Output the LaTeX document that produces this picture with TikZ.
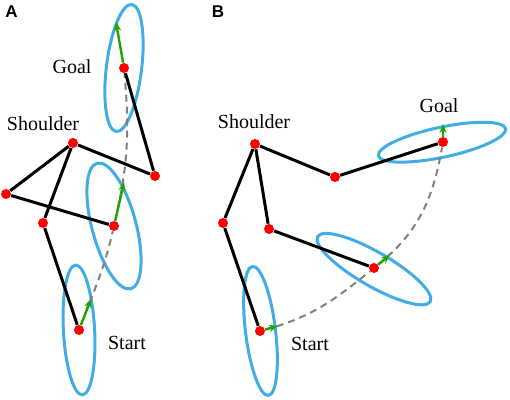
\documentclass[tikz,border=0pt]{standalone}
\usepackage{fontspec}
\setmainfont{Liberation Serif}
\setsansfont{Liberation Sans}
\usetikzlibrary{arrows.meta,backgrounds}

\definecolor{reachblue}{RGB}{66,172,228}
\definecolor{velgreen}{RGB}{32,165,0}

\tikzset{
    joint/.style={circle, fill=red, inner sep=0pt, minimum size=5pt},
    arm/.style={line width=1.5pt},
    reach/.style={draw=reachblue, line width=1.5pt},
    traj/.style={draw=gray, line width=1pt, dash pattern=on 3.5pt off 2.5pt},
    vel/.style={-{Stealth[length=4.5pt, width=3.6pt]}, draw=velgreen, fill=velgreen, line width=1.2pt},
    lbl/.style={font=\fontsize{10}{12}\selectfont, anchor=base, inner sep=0pt},
    panel/.style={font=\sffamily\bfseries\fontsize{8.5}{10}\selectfont, anchor=base, inner sep=0pt}
}

\begin{document}
\begin{tikzpicture}[x=0.5pt, y=-0.5pt]

    \useasboundingbox (0,0) rectangle (510,400);

    % Panel A
    \node [panel] (labA) at (11.5,18) {A};

    % Gelenke A
    \node [joint] (shA) at (73,143) {};
    \node [joint] (eA1) at (155,176) {};
    \node [joint] (gA) at (124,68) {};
    \node [joint] (eA2) at (6,194) {};
    \node [joint] (mA) at (114,226) {};
    \node [joint] (eA3) at (43,223) {};
    \node [joint] (sA) at (79,330) {};

    % Geschwindigkeiten A
    \coordinate (vgA) at (116,22);
    \coordinate (vmA) at (124,182);
    \coordinate (vsA) at (91,299);

    % Texte A
    \node [lbl] (goalA) at (72,74) {Goal};
    \node [lbl] (shoulderA) at (43,131) {Shoulder};
    \node [lbl] (startA) at (127,350) {Start};

    % Ellipsen und Bahn A
    \begin{scope}[on background layer]
        \draw [reach, rotate around={-7:(gA)}] (gA) ellipse [x radius=8.8pt, y radius=32pt];
        \draw [reach, rotate around={15:(mA)}] (mA) ellipse [x radius=11pt, y radius=32.5pt];
        \draw [reach, rotate around={3:(sA)}] (sA) ellipse [x radius=7.8pt, y radius=32.5pt];
        \draw [traj] (sA) to[out=69, in=-103] (mA) to[out=77, in=-85] (gA);
    \end{scope}

    % Arme A
    \draw [arm] (shA) -- (eA1) -- (gA);
    \draw [arm] (shA) -- (eA2) -- (mA);
    \draw [arm] (shA) -- (eA3) -- (sA);

    % Pfeile A
    \draw [vel] (gA) -- (vgA);
    \draw [vel] (mA) -- (vmA);
    \draw [vel] (sA) -- (vsA);

    % Panel B
    \node [panel] (labB) at (218,18) {B};

    % Gelenke B
    \node [joint] (shB) at (255,144) {};
    \node [joint] (eB1) at (335,177) {};
    \node [joint] (gB) at (443,142) {};
    \node [joint] (eB2) at (223,223) {};
    \node [joint] (sB) at (260,331) {};
    \node [joint] (eB3) at (269,229) {};
    \node [joint] (mB) at (374,268) {};

    % Geschwindigkeiten B
    \coordinate (vgB) at (443,124);
    \coordinate (vmB) at (390,255);
    \coordinate (vsB) at (278,326);

    % Texte B
    \node [lbl] (goalB) at (439,113) {Goal};
    \node [lbl] (shoulderB) at (254,129) {Shoulder};
    \node [lbl] (startB) at (310,351) {Start};

    % Ellipsen und Bahn B
    \begin{scope}[on background layer]
        \draw [reach, rotate around={12:(gB)}] (442,142) ellipse [x radius=32.5pt, y radius=7.5pt];
        \draw [reach, rotate around={-30:(mB)}] (374.5,269) ellipse [x radius=32.5pt, y radius=8.5pt];
        \draw [reach, rotate around={7:(sB)}] (260.5,331) ellipse [x radius=7.5pt, y radius=32.5pt];
        \draw [traj] (sB) to[out=15, in=-141] (mB) to[out=39, in=-100] (gB);
    \end{scope}

    % Arme B
    \draw [arm] (shB) -- (eB1) -- (gB);
    \draw [arm] (shB) -- (eB2) -- (sB);
    \draw [arm] (shB) -- (eB3) -- (mB);

    % Pfeile B
    \draw [vel] (gB) -- (vgB);
    \draw [vel] (mB) -- (vmB);
    \draw [vel] (sB) -- (vsB);

\end{tikzpicture}
\end{document}
